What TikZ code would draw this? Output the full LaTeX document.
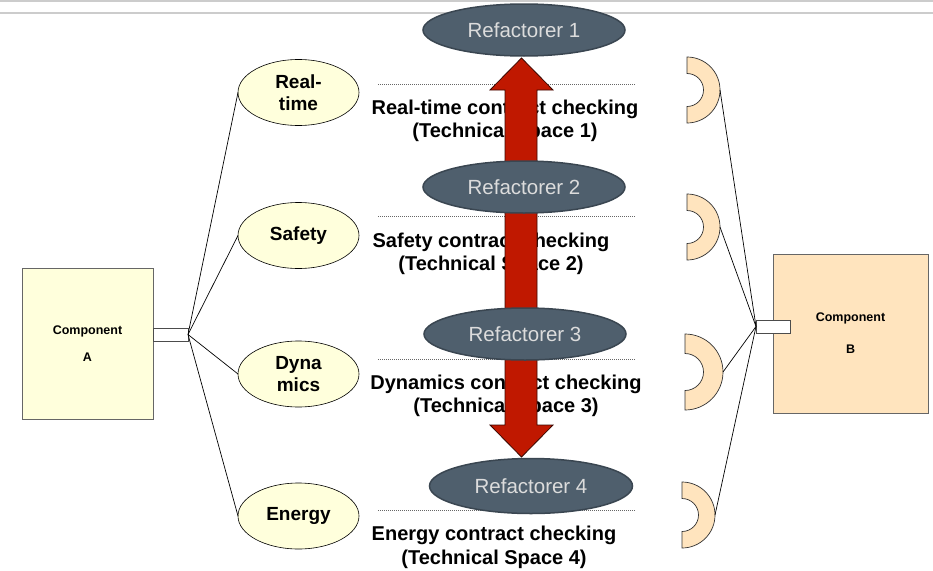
\documentclass[tikz,border=0pt]{standalone}
\usepackage{fontspec}
\setmainfont{Liberation Sans}
\usetikzlibrary{shapes.geometric}
\definecolor{refill}{HTML}{4F5F6D}
\definecolor{redge}{HTML}{3A4651}
\definecolor{rtext}{HTML}{DCDCDC}
\definecolor{yel}{HTML}{FFFFDC}
\definecolor{peach}{HTML}{FFE4BE}
\definecolor{arrred}{HTML}{C01800}
\definecolor{topline}{HTML}{CCCCCC}
\newcommand\halfring[5]{%
  \draw[ringstyle] (#1,#2-#3) arc[start angle=-90,end angle=90,radius=#3]
    -- (#1,#2+#4) arc[start angle=90,end angle=-90,radius=#4] -- cycle;
  \coordinate (#5) at (#1+#3,#2);}
\begin{document}
\begin{tikzpicture}[x=1pt,y=-1pt,
  compbox/.style={draw=black!60, line width=0.8pt, inner sep=0pt, outer sep=0pt, align=center,
    font=\fontsize{12.5}{15}\selectfont\bfseries},
  portbox/.style={draw=black!70, fill=white, line width=0.8pt, inner sep=0pt, outer sep=0pt},
  topic/.style={ellipse, draw=black, fill=yel, line width=0.6pt, inner sep=0pt, outer sep=0pt,
    minimum width=121pt, minimum height=66pt, align=center,
    font=\fontsize{19}{22}\selectfont\bfseries},
  refac/.style={ellipse, draw=redge, fill=refill, line width=1.5pt, inner sep=0pt,
    minimum width=202pt, minimum height=52pt, text=rtext,
    font=\fontsize{20.5}{24}\selectfont},
  ctext/.style={align=center, inner sep=0pt, font=\fontsize{20}{23.5}\selectfont\bfseries},
  conn/.style={draw=black, line width=0.7pt},
  ringstyle/.style={draw=black!80, fill=peach, line width=0.7pt},
  dots/.style={draw=black!60, line width=0.8pt, dash pattern=on 1pt off 1pt},
]
\useasboundingbox (0,0) rectangle (933,570);
\fill[white] (0,0) rectangle (933,570);
% top guide lines
\draw[topline, line width=1.5pt] (0,0.8) -- (933,0.8);
\draw[topline, line width=1.5pt] (0,13) -- (933,13);

% components
\node[compbox, fill=yel, minimum width=131pt, minimum height=151pt] (A) at (87.5,343.5) {\raisebox{-3pt}{Component}\\[12pt]\raisebox{-3pt}{A}};
\node[portbox, minimum width=35pt, minimum height=13pt] (pA) at (170.5,334.5) {};
\node[compbox, fill=peach, minimum width=155pt, minimum height=159pt] (B) at (850.5,333.5) {Component\\[17pt]B};
\node[portbox, minimum width=34pt, minimum height=13pt] (pB) at (773,326.5) {};

% topic ellipses
\node[topic] (e1) at (298.5,92.5) {Real-\\time};
\node[topic] (e2) at (298.5,235.5) {Safety};
\node[topic] (e3) at (298.5,374) {Dyna\\mics};
\node[topic] (e4) at (298.5,516) {Energy};

\draw[conn] (pA.east) -- (e1.west);
\draw[conn] (pA.east) -- (e2.west);
\draw[conn] (pA.east) -- (e3.west);
\draw[conn] (pA.east) -- (e4.west);

% half rings
\halfring{687}{90}{33}{16.5}{r1}
\halfring{687}{227}{33}{16.5}{r2}
\halfring{685}{372}{38}{18.5}{r3}
\halfring{682}{515}{33}{16.5}{r4}

\draw[conn] (pB.west) -- (r1);
\draw[conn] (pB.west) -- (r2);
\draw[conn] (pB.west) -- (r3);
\draw[conn] (pB.west) -- (r4);

% contract texts
\node[ctext] (t1) at (505,121) {Real-time contract checking\\(Technical Space 1)};
\node[ctext] (t2) at (491,254) {Safety contract checking\\(Technical Space 2)};
\node[ctext] (t3) at (506,396) {Dynamics contract checking\\(Technical Space 3)};
\node[ctext] (t4) at (494,547.5) {Energy contract checking\\(Technical Space 4)};

% dotted separators
\draw[dots] (378,84) -- (636,84);
\draw[dots] (378,216) -- (636,216);
\draw[dots] (378,359) -- (636,359);
\draw[dots] (378,510) -- (636,510);

% double arrow
\draw[fill=arrred, draw=black!70!arrred, line width=0.8pt]
  (521.5,58) -- (553,90) -- (537,90) -- (537,425) -- (553,425) -- (521.5,457)
  -- (490,425) -- (505,425) -- (505,90) -- (490,90) -- cycle;

% refactorers
\node[refac] (R1) at (524,30) {Refactorer 1};
\node[refac] (R2) at (524,187) {Refactorer 2};
\node[refac] (R3) at (525,334) {Refactorer 3};
\node[refac, minimum width=203pt, minimum height=55pt] (R4) at (531,486) {Refactorer 4};
\end{tikzpicture}
\end{document}
